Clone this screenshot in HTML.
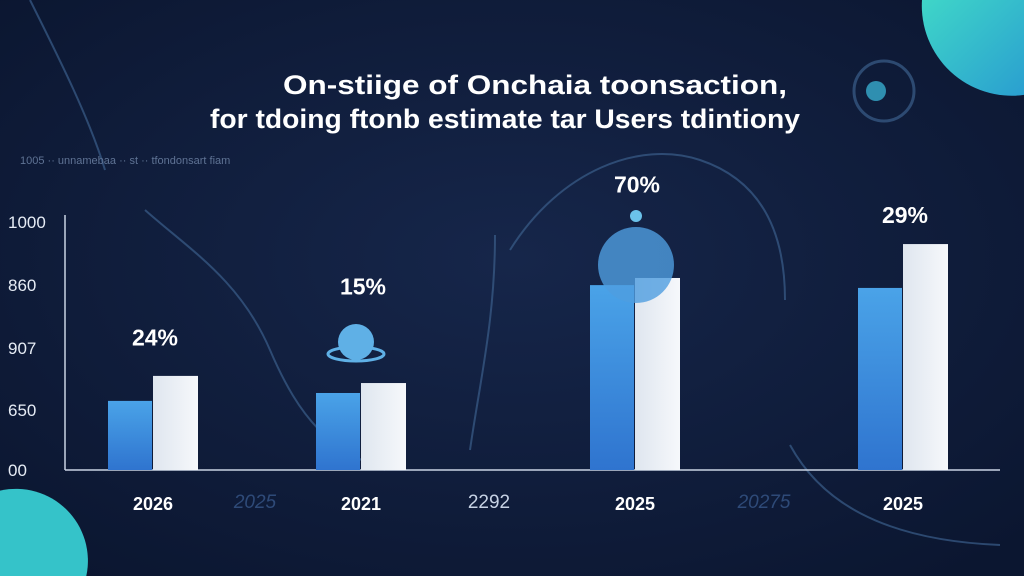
<!DOCTYPE html>
<html><head><meta charset="utf-8"><style>
html,body{margin:0;padding:0;width:1024px;height:576px;overflow:hidden;background:#0e1a36}
svg{display:block;overflow:hidden}
text{font-family:"Liberation Sans",sans-serif}
</style></head><body>
<svg id="chart" width="1024" height="576" viewBox="0 0 1024 576">
<defs>
<radialGradient id="bg" cx="50%" cy="45%" r="70%"><stop offset="0" stop-color="#16264a"/><stop offset="1" stop-color="#0b1630"/></radialGradient>
<linearGradient id="tealTR" x1="0" y1="0" x2="1" y2="1"><stop offset="0" stop-color="#3fd6c8"/><stop offset="1" stop-color="#2a9fd0"/></linearGradient>
<linearGradient id="blueBar" x1="0" y1="0" x2="0" y2="1"><stop offset="0" stop-color="#4aa3e8"/><stop offset="1" stop-color="#2f74cf"/></linearGradient>
<linearGradient id="whiteBar" x1="0" y1="0" x2="1" y2="0"><stop offset="0" stop-color="#dfe6ef"/><stop offset="1" stop-color="#f6f8fb"/></linearGradient>
</defs>
<rect width="1024" height="576" fill="url(#bg)"/>
<path d="M922 0 A90 90 0 0 0 1024 94.9 L1024 0 Z" fill="url(#tealTR)"/>
<path d="M0 490.6 A72 72 0 0 1 86.3 576 L0 576 Z" fill="#35c3c9"/>
<g fill="none" stroke="#3b5e8a" stroke-width="2" opacity="0.7">
<path d="M30 0 C60 60 90 120 105 170"/>
<path d="M145 210 C190 250 240 280 270 350 C300 420 330 450 385 470"/>
<path d="M495 235 C495 320 480 380 470 450"/>
<path d="M510 250 C560 170 640 140 700 160 C760 180 785 230 785 300"/>
<path d="M790 445 C820 500 880 540 1000 545"/>
<circle cx="884" cy="91" r="30" stroke-width="3"/>
</g>
<circle cx="876" cy="91" r="10" fill="#2f8fb0"/>
<text x="283" y="94" textLength="504" lengthAdjust="spacingAndGlyphs" fill="#ffffff" font-size="27" font-weight="bold">On-stiige of Onchaia toonsaction,</text>
<text x="210" y="128" textLength="590" lengthAdjust="spacingAndGlyphs" fill="#ffffff" font-size="27" font-weight="bold">for tdoing ftonb estimate tar Users tdintiony</text>
<text x="20" y="164" fill="#5f7394" font-size="11">1005 ·· unnamebaa ·· st ·· tfondonsart fiam</text>
<g id="axes"></g>
<g id="bars"></g>
</svg>
<script>
const categories=["2026","2021","2025","2025"];
const seriesBlue=[271,302,725,714];
const seriesWhite=[369,341,753,886];
const pctLabels=["24%","15%","70%","29%"];
const pctValues=[520,720,1120,1000];
const tickValues=[0,235,478,725,973];
const tickLabels=["00","650","907","860","1000"];
const ghostLabels=["2025","2292","20275"];

const NS="http://www.w3.org/2000/svg";
const x0=65,x1=1000,yBase=470,yTop=215,vMax=1000;
const y=v=>yBase-(v/vMax)*(yBase-yTop);
const groupCenters=[153,361,635,903];
const xc=i=>groupCenters[i];
function mk(tag,attrs,parent){const e=document.createElementNS(NS,tag);for(const k in attrs)e.setAttribute(k,attrs[k]);parent.appendChild(e);return e;}
const axes=document.getElementById('axes'),bars=document.getElementById('bars');
let l=mk('line',{x1:x0,y1:yTop,x2:x0,y2:yBase,stroke:'#c9d3e3','stroke-width':1.5},axes);


l=mk('line',{x1:x0,y1:yBase,x2:x1,y2:yBase,stroke:'#c9d3e3','stroke-width':1.5},axes);


tickValues.forEach((v,i)=>{const t=mk('text',{x:8,y:y(v)+6,fill:'#e6ecf5','font-size':17},axes);t.textContent=tickLabels[i];

});
categories.forEach((c,i)=>{
 const cx=xc(i);
 let r=mk('rect',{x:cx-45,y:y(seriesBlue[i]),width:44,height:yBase-y(seriesBlue[i]),fill:'url(#blueBar)'},bars);
 
 
 r=mk('rect',{x:cx,y:y(seriesWhite[i]),width:45,height:yBase-y(seriesWhite[i]),fill:'url(#whiteBar)'},bars);
 
 
 let t=mk('text',{x:cx+2,y:y(pctValues[i])+8,'text-anchor':'middle',fill:'#fff','font-size':23,'font-weight':'bold'},bars);t.textContent=pctLabels[i];
 
 
 t=mk('text',{x:cx,y:510,'text-anchor':'middle',fill:'#fff','font-size':18,'font-weight':'bold'},bars);t.textContent=c;
 
 
});
[255,489,764].forEach((gx,i)=>{const t=mk('text',{x:gx,y:508,'text-anchor':'middle',fill:i==1?'#c7d2e4':'#2e4a78','font-size':19,'font-style':i==1?'normal':'italic'},bars);t.textContent=ghostLabels[i];

});
let g=mk('g',{},bars);
mk('ellipse',{cx:356,cy:354,rx:28,ry:7,fill:'none',stroke:'#5fb0e6','stroke-width':3},g);
mk('circle',{cx:356,cy:342,r:18,fill:'#5fb0e6'},g);
g=mk('g',{},bars);
mk('circle',{cx:636,cy:265,r:38,fill:'#4f9ee0',opacity:0.8},g);
mk('circle',{cx:636,cy:216,r:6,fill:'#6bc2ea'},g);
</script>
</body></html>
